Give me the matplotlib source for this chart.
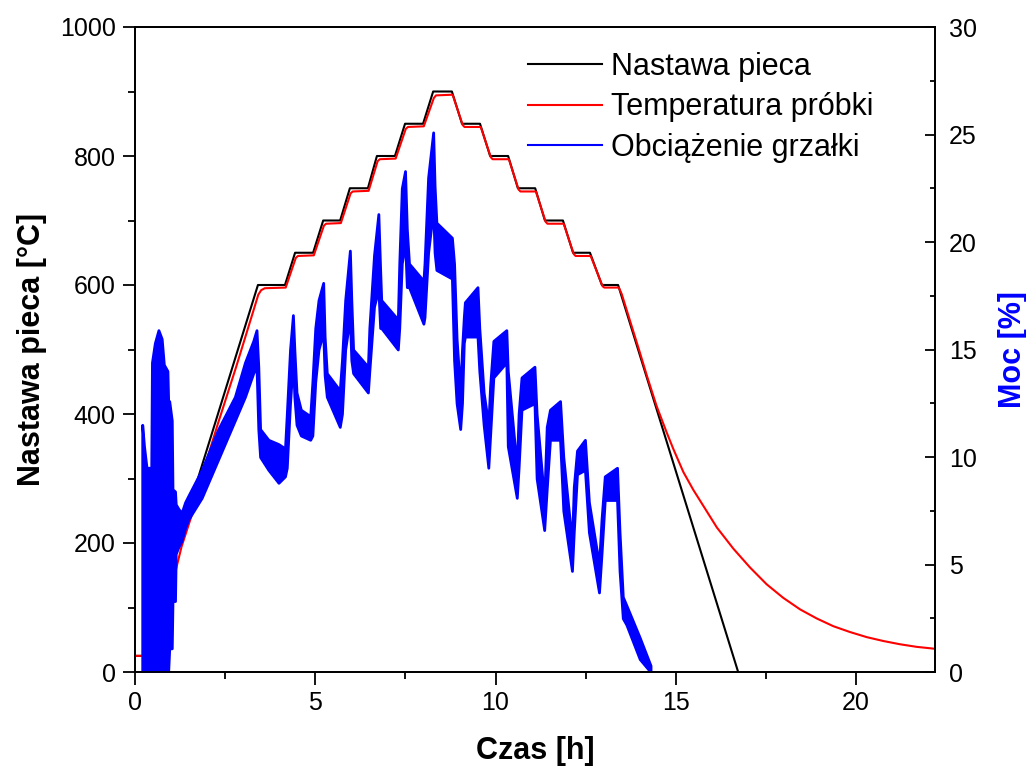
import matplotlib
matplotlib.use("Agg")
import matplotlib.pyplot as plt
from matplotlib.lines import Line2D
from matplotlib.ticker import MultipleLocator

plt.rcParams['font.family'] = ['Liberation Sans', 'DejaVu Sans']

# ---- data: furnace setpoint (°C) ----
set_t = [0, 0.22, 3.41, 4.16, 4.44, 4.94, 5.22, 5.69, 5.96, 6.46, 6.71, 7.21, 7.49, 7.99,
         8.27, 8.79, 9.07, 9.57, 9.85, 10.35, 10.62, 11.10, 11.37, 11.87, 12.15, 12.62,
         12.95, 13.40, 16.73]
set_T = [25, 25, 600, 600, 650, 650, 700, 700, 750, 750, 800, 800, 850, 850,
         900, 900, 850, 850, 800, 800, 750, 750, 700, 700, 650, 650,
         600, 600, 0]

# ---- data: sample temperature (°C) ----
smp_t = [0, 0.2, 0.45, 0.7, 0.9, 1.11, 1.29, 1.62, 1.9, 2.3, 2.8, 3.3, 3.42, 3.5, 3.6,
         4.18, 4.46, 4.52, 4.96, 5.24, 5.30, 5.71, 5.98, 6.04, 6.48, 6.73, 6.79, 7.23,
         7.51, 7.57, 8.01, 8.29, 8.35, 8.81, 9.09, 9.14, 9.59, 9.87, 9.92, 10.37,
         10.64, 10.69, 11.12, 11.39, 11.44, 11.89, 12.17, 12.22, 12.64, 12.97, 13.02,
         13.42, 13.5, 14.0, 14.2, 14.47, 14.75, 14.93, 15.21, 15.49, 15.67, 16.14,
         16.60, 17.06, 17.52, 17.98, 18.45, 18.91, 19.37, 19.83, 20.30, 20.76, 21.22,
         21.68, 22.19]
smp_T = [25, 25, 38, 68, 108, 153, 194, 251, 312, 385, 472, 563, 585, 592, 595,
         596, 642, 645, 646, 692, 695, 696, 742, 745, 746, 792, 795, 796,
         842, 845, 846, 890, 894, 895, 848, 845, 845, 798, 795, 795,
         748, 745, 745, 698, 695, 695, 648, 645, 645, 598, 596,
         596, 586, 496, 459, 412, 371, 346, 310, 282, 266, 224,
         191, 162, 136, 115, 97, 83, 71, 62, 54, 48, 43,
         39, 36]

# ---- data: heater load (%), lower / upper envelope of the noisy signal ----
pow_t = [0.20, 0.25, 0.32, 0.45, 0.47, 0.55, 0.65, 0.74, 0.80, 0.90, 0.92, 0.95, 1.02,
         1.04, 1.11, 1.13, 1.20, 1.29, 1.39, 1.48, 1.85, 2.31, 2.77, 3.05, 3.28, 3.37,
         3.42, 3.47, 3.70, 3.98, 4.16, 4.21, 4.30, 4.38, 4.42, 4.48, 4.60, 4.86, 4.92,
         5.00, 5.09, 5.22, 5.26, 5.32, 5.68, 5.74, 5.83, 5.96, 6.00, 6.05, 6.46, 6.50,
         6.63, 6.75, 6.80, 6.83, 7.29, 7.33, 7.40, 7.49, 7.54, 7.60, 8.00, 8.03, 8.13,
         8.27, 8.31, 8.36, 8.79, 8.85, 8.92, 9.02, 9.07, 9.12, 9.15, 9.50, 9.55, 9.67,
         9.80, 9.85, 9.94, 10.30, 10.34, 10.59, 10.64, 10.72, 11.08, 11.14, 11.35,
         11.42, 11.51, 11.79, 11.88, 12.12, 12.17, 12.26, 12.48, 12.59, 12.87, 12.94,
         13.03, 13.37, 13.44, 13.53, 13.63, 14.00, 14.30]
pow_lo = [0, 0, 0, 0, 0, 0, 0, 0, 0, 0, 0, 1.1, 1.1,
          3.3, 3.3, 5.5, 5.8, 6.1, 6.7, 7.1, 8.1, 9.9, 11.7, 12.8, 13.9, 14.2,
          11.3, 10.0, 9.4, 8.8, 9.1, 9.5, 12.5, 14.5, 12.8, 11.5, 11.0, 10.8, 11.0,
          13.5, 15.0, 15.8, 13.8, 12.8, 11.4, 12.0, 15.0, 16.5, 14.5, 13.9, 13.0, 14.0,
          17.0, 17.8, 16.0, 16.0, 15.0, 16.0, 19.0, 20.0, 17.9, 17.9, 16.2, 16.5, 19.5,
          21.5, 19.5, 18.7, 18.3, 14.5, 12.5, 11.3, 12.5, 15.3, 15.6, 15.6, 14.0, 11.5,
          9.5, 11.0, 13.7, 14.4, 10.5, 8.1, 9.5, 12.2, 12.5, 9.0, 6.6,
          8.5, 10.8, 10.8, 7.5, 4.7, 6.5, 9.2, 9.4, 6.5, 3.7, 5.5,
          8.0, 8.0, 4.7, 2.5, 2.2, 0.6, 0]
pow_hi = [11.5, 10.5, 9.5, 9.5, 14.4, 15.3, 15.9, 15.5, 14.3, 14.0, 12.6, 12.6, 11.7,
          8.5, 8.4, 7.8, 7.6, 7.4, 7.9, 8.2, 9.4, 11.3, 12.8, 14.4, 15.4, 15.9,
          14.2, 11.3, 10.8, 10.6, 10.4, 12.0, 15.0, 16.6, 15.0, 13.0, 12.2, 11.9, 13.5,
          16.0, 17.3, 18.1, 15.6, 13.9, 13.1, 14.5, 17.3, 19.6, 17.3, 15.0, 14.2, 16.0,
          19.4, 21.3, 18.7, 17.3, 16.4, 19.0, 22.5, 23.3, 20.6, 19.0, 18.2, 19.0, 23.0,
          25.1, 22.6, 20.9, 20.2, 19.0, 15.5, 13.0, 15.0, 16.5, 17.2, 17.9, 16.0, 13.0,
          11.5, 13.3, 15.4, 15.9, 14.0, 9.5, 12.0, 13.7, 14.2, 12.0, 8.0,
          11.4, 12.2, 12.6, 10.0, 6.0, 8.6, 10.3, 10.8, 7.9, 5.0, 7.1,
          9.1, 9.5, 6.5, 3.5, 3.1, 1.6, 0.3]

x_ticks = [0, 5, 10, 15, 20]
y1_ticks = [0, 200, 400, 600, 800, 1000]
y2_ticks = [0, 5, 10, 15, 20, 25, 30]

fig = plt.figure(figsize=(10.26, 7.76), dpi=100)
ax = fig.add_axes([135/1026, 1-672/776, 800/1026, 645/776])
ax2 = ax.twinx()

ax.plot(set_t, set_T, color='black', lw=1.5, label='Nastawa pieca')
ax.plot(smp_t, smp_T, color='red', lw=1.5, label='Temperatura próbki')
ax2.fill_between(pow_t, pow_lo, pow_hi, facecolor='blue', edgecolor='blue', lw=2.0)

ax.set_xlim(0, 22.19)
ax.set_ylim(0, 1000)
ax2.set_ylim(0, 30)
ax.set_xticks(x_ticks)
ax.set_yticks(y1_ticks)
ax2.set_yticks(y2_ticks)
ax.xaxis.set_minor_locator(MultipleLocator(2.5))
ax.yaxis.set_minor_locator(MultipleLocator(100))
ax2.yaxis.set_minor_locator(MultipleLocator(2.5))

for a in (ax, ax2):
    for s in a.spines.values():
        s.set_linewidth(1.3)

ax.tick_params(axis='both', which='major', direction='out', length=9, width=1.3,
               labelsize=18, pad=5)
ax.tick_params(axis='both', which='minor', direction='out', length=5, width=1.3)
ax.tick_params(axis='y', right=False, which='both')
ax.tick_params(axis='x', top=False, which='both')
ax2.tick_params(axis='y', which='major', direction='in', length=7, width=1.3,
                labelsize=18, pad=10)
ax2.tick_params(axis='y', which='minor', direction='in', length=3.5, width=1.3)

ax.set_xlabel('Czas [h]', fontsize=22, fontweight='bold', labelpad=15)
ax.set_ylabel('Nastawa pieca [°C]', fontsize=22, fontweight='bold', labelpad=9)
ax2.set_ylabel('Moc [%]', fontsize=22, fontweight='bold', color='blue', labelpad=15)

handles = [Line2D([], [], color='black', lw=1.5),
           Line2D([], [], color='red', lw=1.5),
           Line2D([], [], color='blue', lw=1.5)]
labels = ['Nastawa pieca', 'Temperatura próbki', 'Obciążenie grzałki']
ax2.legend(handles, labels, loc='upper left', bbox_to_anchor=(0.465, 0.995),
           frameon=False, fontsize=22, handlelength=2.4, handletextpad=0.3,
           labelspacing=0.35, borderaxespad=0.3)

fig.savefig('out.png', dpi=100)
